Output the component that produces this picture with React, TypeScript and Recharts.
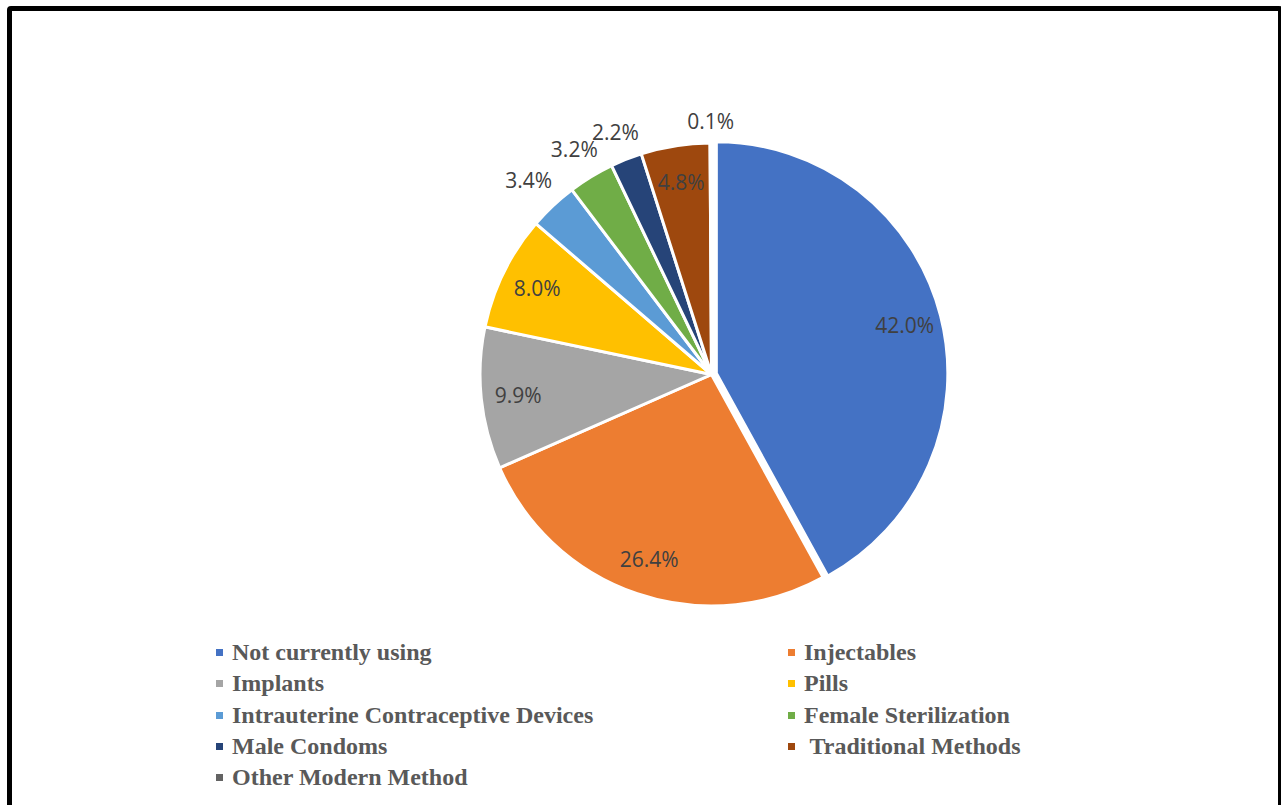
import { PieChart, Pie, Cell, Legend } from 'recharts';

const methods = [
  'Not currently using',
  'Injectables',
  'Implants',
  'Pills',
  'Intrauterine Contraceptive Devices',
  'Female Sterilization',
  'Male Condoms',
  ' Traditional Methods',
  'Other Modern Method',
];

const shares = [42.0, 26.4, 9.9, 8.0, 3.4, 3.2, 2.2, 4.8, 0.1];

const colors = [
  '#4472C4',
  '#ED7D31',
  '#A5A5A5',
  '#FFC000',
  '#5B9BD5',
  '#70AD47',
  '#264478',
  '#9E480E',
  '#636363',
];

const pieData = methods.map((name, i) => ({ name, value: shares[i] }));

const RADIAN = Math.PI / 180;
const CX = 711.5;
const CY = 374.5;
const R = 231.5;
const EXPLODE = 5;

// offset of the pulled-out first slice
const blueMid = (90 - (shares[0] / 2) * 3.6) * RADIAN;
const EX = EXPLODE * Math.cos(blueMid);
const EY = -EXPLODE * Math.sin(blueMid);

const renderLabel = (props: any) => {
  const { cx, cy, midAngle, outerRadius, value, index } = props;
  const outside = value < 4;
  const c = Math.cos(-midAngle * RADIAN);
  const s = Math.sin(-midAngle * RADIAN);
  const r = outside ? outerRadius + 22 + 20 * Math.abs(c) : outerRadius * 0.84;
  let x = cx + r * c;
  let y = cy + r * s;
  if (index === 0) {
    x += EX;
    y += EY;
  }
  return (
    <text
      x={x}
      y={y}
      fill="#404040"
      textAnchor="middle"
      dominantBaseline="central"
      style={{ fontFamily: '"Open Sans", sans-serif', fontSize: 21 }}
    >
      {`${value.toFixed(1)}%`}
    </text>
  );
};

const LegendGrid = () => (
  <div
    style={{
      display: 'grid',
      gridTemplateColumns: '572px 420px',
      paddingLeft: 216,
      fontFamily: '"Liberation Serif", "Times New Roman", serif',
      fontWeight: 'bold',
      fontSize: 24,
      color: '#595959',
    }}
  >
    {methods.map((name, i) => (
      <div key={name} style={{ display: 'flex', alignItems: 'center', height: 31.3 }}>
        <span
          style={{
            display: 'inline-block',
            width: 7,
            height: 7,
            background: colors[i],
            marginRight: 9,
          }}
        />
        <span style={{ whiteSpace: 'pre' }}>{name}</span>
      </div>
    ))}
  </div>
);

export default function App() {
  return (
    <div
      style={{
        position: 'absolute',
        left: 0,
        top: 0,
        width: 1281,
        height: 805,
        overflow: 'hidden',
        background: '#ffffff',
      }}
    >
      <div
        style={{
          position: 'absolute',
          left: 7,
          top: 6,
          width: 1276,
          height: 830,
          border: '5px solid #000000',
          borderRadius: 4,
          boxSizing: 'border-box',
        }}
      />
      <div style={{ position: 'absolute', left: 0, top: 0 }}>
        <PieChart width={1281} height={805} margin={{ top: 0, right: 0, bottom: 0, left: 0 }}>
          <Pie
            data={pieData}
            dataKey="value"
            nameKey="name"
            cx={CX}
            cy={CY}
            outerRadius={R}
            startAngle={90}
            endAngle={-270}
            label={renderLabel}
            labelLine={false}
            isAnimationActive={false}
          >
            {pieData.map((d, i) => (
              <Cell
                key={d.name}
                fill={i === 0 ? 'transparent' : colors[i]}
                stroke={i === 0 ? 'none' : '#ffffff'}
                strokeWidth={3}
              />
            ))}
          </Pie>
          <Pie
            data={pieData}
            dataKey="value"
            nameKey="name"
            cx={CX + EX}
            cy={CY + EY}
            outerRadius={R}
            startAngle={90}
            endAngle={-270}
            label={false}
            labelLine={false}
            legendType="none"
            isAnimationActive={false}
          >
            {pieData.map((d, i) => (
              <Cell
                key={d.name}
                fill={i === 0 ? colors[0] : 'transparent'}
                stroke={i === 0 ? '#ffffff' : 'none'}
                strokeWidth={3}
              />
            ))}
          </Pie>
          <Legend
            content={() => <LegendGrid />}
            wrapperStyle={{ position: 'absolute', left: 0, top: 637, width: 1281 }}
          />
        </PieChart>
      </div>
    </div>
  );
}
